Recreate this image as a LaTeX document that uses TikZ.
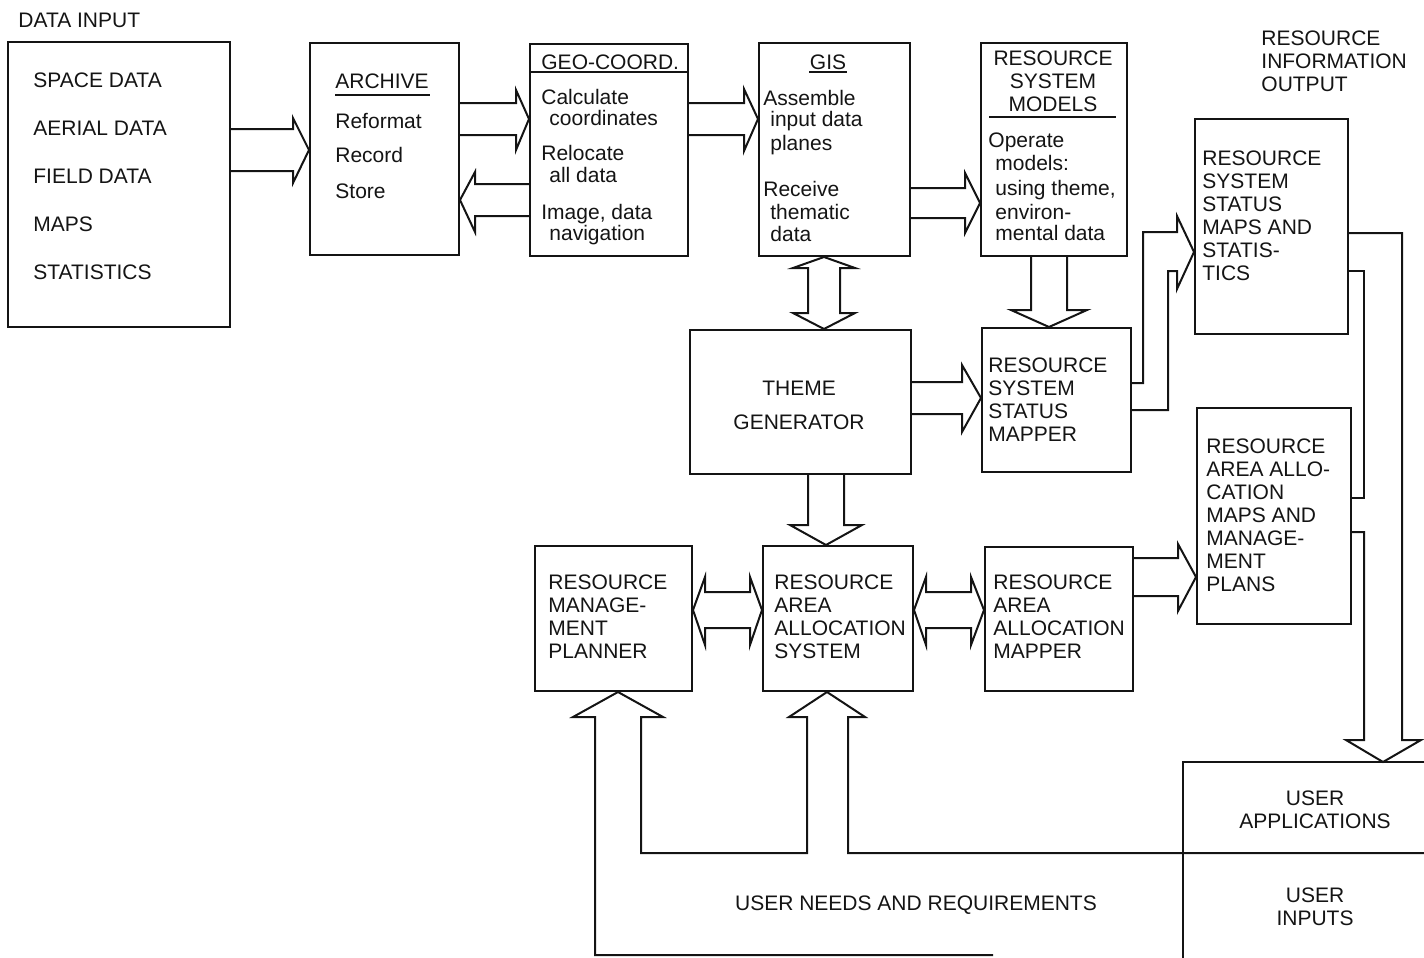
\documentclass[tikz,border=0pt]{standalone}
\usepackage{fontspec}
\setmainfont{Liberation Sans}
\usepackage{tikz}
\usetikzlibrary{positioning}
\definecolor{dgink}{HTML}{141414}
\newcommand{\dgfont}{\fontsize{10.5}{11.5}\selectfont}
\tikzset{
  box/.style={draw=dgink,line width=1pt,anchor=north west,inner sep=0pt},
  txt/.style={anchor=north west,inner sep=0pt,align=left,font=\dgfont,text=dgink},
  ctxt/.style={txt,anchor=north,align=center},
  hollow/.style={draw=dgink,line width=1pt,line join=miter},
  rule/.style={draw=dgink,line width=1pt},
}

\begin{document}
\begin{tikzpicture}[x=0.5pt,y=-0.5pt]
  \useasboundingbox (0,0) rectangle (1424,958);
  % boxes
  \node[box,minimum width=111pt,minimum height=142.5pt] (datain) at (7,41) {};
  \node[box,minimum width=74.5pt,minimum height=106pt] (archive) at (309,42) {};
  \node[box,minimum width=79pt,minimum height=106pt] (geo) at (529,43) {};
  \node[box,minimum width=75.5pt,minimum height=106.5pt] (gis) at (758,42) {};
  \node[box,minimum width=73pt,minimum height=106.5pt] (rsm) at (980,42) {};
  \node[box,minimum width=76.5pt,minimum height=107.5pt] (statmaps) at (1194,118) {};
  \node[box,minimum width=110.5pt,minimum height=72pt] (theme) at (689,329) {};
  \node[box,minimum width=74.5pt,minimum height=72pt] (stmapper) at (981,327) {};
  \node[box,minimum width=77pt,minimum height=108pt] (allocmaps) at (1196,407) {};
  \node[box,minimum width=78.5pt,minimum height=72.5pt] (planner) at (534,545) {};
  \node[box,minimum width=75pt,minimum height=72.5pt] (allocsys) at (762,545) {};
  \node[box,minimum width=74pt,minimum height=72pt] (allocmapper) at (984,546) {};
  \coordinate (usertop) at (1383,762);
  \coordinate (needsend) at (993,955);
  \coordinate (useredge) at (1424,853);
  \draw[rule] (1424,762) -| (1183,958);
  % texts
  \node[txt] (datainlbl) at (18,12.5) {DATA INPUT};
  \node[txt] (dataintxt) at (33,72.5) {SPACE DATA\\[12.5pt]AERIAL DATA\\[12.5pt]FIELD DATA\\[12.5pt]MAPS\\[12.5pt]STATISTICS};
  \node[txt] (archivetxt) at (335,73.5) {ARCHIVE\\[8.5pt]Reformat\\[5.5pt]Record\\[6.5pt]Store};
  \node[txt] (geotxt) at (541,54.5) {GEO-COORD.\\[6pt]Calculate\\[-1pt]\hspace*{4pt}coordinates\\[6pt]Relocate\\[-0.5pt]\hspace*{4pt}all data\\[7pt]Image, data\\[-1pt]\hspace*{4pt}navigation};
  \node[ctxt] (gistitle) at (828,54.5) {GIS};
  \node[txt] (gistxt) at (763,89.5) {Assemble\\[-1pt]\hspace*{3.5pt}input data\\[0.5pt]\hspace*{3.5pt}planes\\[11.5pt]Receive\\\hspace*{3.5pt}thematic\\[-0.5pt]\hspace*{3.5pt}data};
  \node[ctxt] (rsmtitle) at (1053,50.5) {RESOURCE\\SYSTEM\\MODELS};
  \node[txt] (rsmtxt) at (988,132.5) {Operate\\\hspace*{3.5pt}models:\\[1pt]\hspace*{3.5pt}using theme,\\[0.5pt]\hspace*{3.5pt}environ-\\[-1pt]\hspace*{3.5pt}mental data};
  \node[txt] (outlbl) at (1261,30.5) {RESOURCE\\INFORMATION\\OUTPUT};
  \node[txt] (statmapstxt) at (1202,150.5) {RESOURCE\\SYSTEM\\STATUS\\MAPS AND\\STATIS-\\TICS};
  \node[ctxt] (themetxt) at (799,380.5) {THEME\\[5.5pt]GENERATOR};
  \node[txt] (stmappertxt) at (988,357.5) {RESOURCE\\SYSTEM\\STATUS\\MAPPER};
  \node[txt] (allocmapstxt) at (1206,438.5) {RESOURCE\\AREA ALLO-\\CATION\\MAPS AND\\MANAGE-\\MENT\\PLANS};
  \node[txt] (plannertxt) at (548,574.5) {RESOURCE\\MANAGE-\\MENT\\PLANNER};
  \node[txt] (allocsystxt) at (774,574.5) {RESOURCE\\AREA\\ALLOCATION\\SYSTEM};
  \node[txt] (allocmappertxt) at (993,574.5) {RESOURCE\\AREA\\ALLOCATION\\MAPPER};
  \node[ctxt] (userapptxt) at (1315,790.5) {USER\\APPLICATIONS};
  \node[ctxt] (userintxt) at (1315,887.5) {USER\\INPUTS};
  \node[ctxt] (needstxt) at (916,895.5) {USER NEEDS AND REQUIREMENTS};
  % underlines
  \draw[rule] (335,95) -- (430,95);
  \draw[rule] (geo.west |- 0,72) -- (geo.east |- 0,72);
  \draw[rule] (809,72) -- (847,72);
  \draw[rule] (989,117) -- (1116,117);
  % hollow arrows
  \draw[hollow] (datain.east |- 0,129) -- (293,129) -- (293,118) -- (archive.west |- 0,150) -- (293,183) -- (293,171) -- (datain.east |- 0,171);
  \draw[hollow] (archive.east |- 0,103) -- (516,103) -- (516,90) -- (geo.west |- 0,119) -- (516,150) -- (516,135) -- (archive.east |- 0,135);
  \draw[hollow] (geo.west |- 0,184) -- (475,184) -- (475,172) -- (archive.east |- 0,200) -- (475,232) -- (475,216) -- (geo.west |- 0,216);
  \draw[hollow] (geo.east |- 0,103) -- (744,103) -- (744,89) -- (gis.west |- 0,119) -- (744,151) -- (744,135) -- (geo.east |- 0,135);
  \draw[hollow] (gis.east |- 0,188) -- (965,188) -- (965,173) -- (rsm.west |- 0,203) -- (965,233) -- (965,218) -- (gis.east |- 0,218);
  \draw[hollow] (gis.south -| 824,0) -- (855,268) -- (840,268) -- (840,313) -- (855,313) -- (theme.north -| 824,0) -- (793,313) -- (808,313) -- (808,268) -- (793,268) -- cycle;
  \draw[hollow] (rsm.south -| 1031,0) -- (1031,310) -- (1011,310) -- (stmapper.north -| 1049,0) -- (1087,310) -- (1067,310) -- (rsm.south -| 1067,0);
  \draw[hollow] (theme.east |- 0,382) -- (962,382) -- (962,365) -- (stmapper.west |- 0,398) -- (962,432) -- (962,414) -- (theme.east |- 0,414);
  \draw[hollow] (stmapper.east |- 0,383) -- (1143,383) -- (1143,232) -- (1177,232) -- (1177,216) -- (statmaps.west |- 0,252) -- (1177,289) -- (1177,271) -- (1168,271) -- (1168,410) -- (stmapper.east |- 0,410);
  \draw[hollow] (theme.south -| 808,0) -- (808,525) -- (790,525) -- (allocsys.north -| 826,0) -- (862,525) -- (844,525) -- (theme.south -| 844,0);
  \draw[hollow] (planner.east |- 0,610) -- (705,577) -- (705,592) -- (750,592) -- (750,577) -- (allocsys.west |- 0,610) -- (750,645) -- (750,628) -- (705,628) -- (705,645) -- cycle;
  \draw[hollow] (allocsys.east |- 0,610) -- (926,577) -- (926,592) -- (971,592) -- (971,577) -- (allocmapper.west |- 0,610) -- (971,645) -- (971,628) -- (926,628) -- (926,645) -- cycle;
  \draw[hollow] (allocmapper.east |- 0,558) -- (1178,558) -- (1178,544) -- (allocmaps.west |- 0,577) -- (1178,611) -- (1178,596) -- (allocmapper.east |- 0,596);
  \draw[hollow] (statmaps.east |- 0,233) -- (1402,233) -- (1402,740) -- (1421,740) -- (usertop) -- (1346,740) -- (1364,740) -- (1364,532) -- (allocmaps.east |- 0,532);
  \draw[hollow] (statmaps.east |- 0,271) -- (1364,271) -- (1364,498) -- (allocmaps.east |- 0,498);
  \draw[hollow] (needsend) -- (595,955) -- (595,717) -- (573,717) -- (planner.south -| 618,0) -- (663,717) -- (641,717) -- (641,853) -- (807,853) -- (807,717) -- (789,717) -- (allocsys.south -| 827,0) -- (865,717) -- (848,717) -- (848,853) -- (useredge);
\end{tikzpicture}
\end{document}
